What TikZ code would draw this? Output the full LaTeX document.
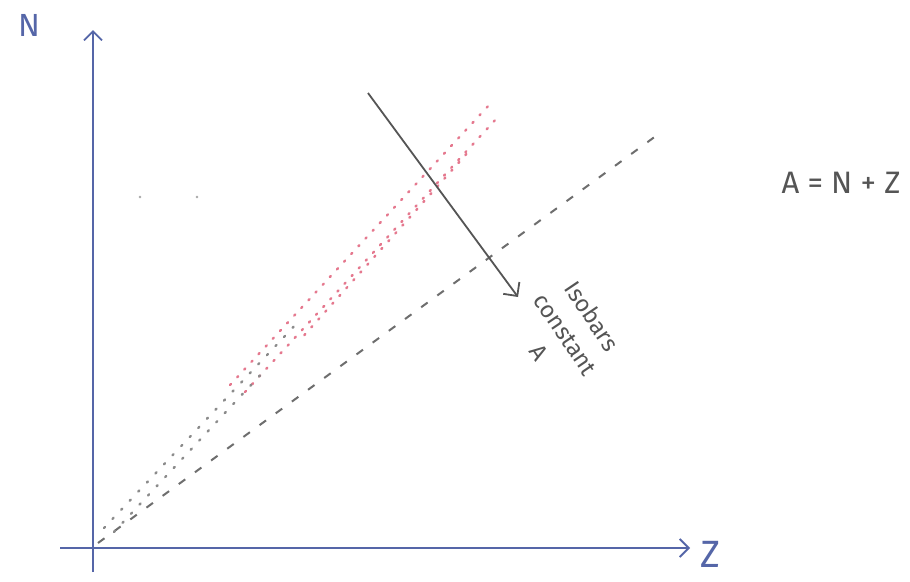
\documentclass[tikz,border=0pt]{standalone}
\usepackage{fontspec}
\setmainfont{Fira Sans}
\usetikzlibrary{arrows.meta}
\definecolor{axisblue}{HTML}{5566A8}
\definecolor{pencil}{HTML}{555555}
\definecolor{dashgray}{HTML}{6E6E6E}
\definecolor{dotred}{HTML}{E0607A}
\tikzset{
  axisline/.style={draw=axisblue, line width=1.8pt, -{Straight Barb[length=9pt,width=18pt,line width=1.8pt]}},
  isoarrow/.style={draw=pencil, line width=1.8pt, -{Straight Barb[length=10pt,width=20pt,line width=1.8pt]}},
  dashline/.style={draw=dashgray, line width=2pt, dash pattern=on 8pt off 12pt},
  reddots/.style={draw=dotred!85, line width=2.4pt, line cap=round, dash pattern=on 1.5pt off 9pt},
  graydots/.style={draw=dashgray!80, line width=2.4pt, line cap=round, dash pattern=on 1.5pt off 11pt},
  hand/.style={text=pencil, inner sep=0pt},
  axislabel/.style={text=axisblue, inner sep=0pt}
}
\begin{document}
\begin{tikzpicture}[x=1pt,y=-1pt]
\useasboundingbox[fill=white] (0,0) rectangle (910,581);
% axes
\coordinate (nbot) at (93,572);
\coordinate (ntop) at (93,30);
\coordinate (zleft) at (60,548);
\coordinate (zright) at (690,548);
\draw[axisline] (nbot) -- (ntop);
\draw[axisline] (zleft) -- (zright);
\node[axislabel, font=\fontsize{32}{34}\selectfont] (nlab) at (29,25) {N};
\node[axislabel, font=\fontsize{38}{40}\selectfont] (zlab) at (710,554) {Z};
% dashed line
\coordinate (d0) at (98,543);
\coordinate (d1) at (660,133);
\draw[dashline] (d0) -- (d1);
% red dotted band
\coordinate (r0) at (230,385);
\coordinate (r1) at (490,104);
\coordinate (s0) at (245,392);
\coordinate (s1) at (497,118);
\draw[reddots] (r0) -- (r1);
\draw[reddots] (s0) -- (s1);
\coordinate (t0) at (300,340);
\coordinate (t1) at (470,150);
\draw[reddots, dash phase=4pt] (t0) -- (t1);
\coordinate (g0) at (104,528);
\coordinate (g1) at (300,320);
\coordinate (h0) at (114,532);
\coordinate (h1) at (265,370);
\draw[graydots] (g0) -- (g1);
\draw[graydots] (h0) -- (h1);
% stray dots
\fill[dashgray!60] (140,197) circle (1.3pt);
\fill[dashgray!60] (197,197) circle (1.3pt);
% isobar arrow
\coordinate (i0) at (368,93);
\coordinate (i1) at (518,297);
\draw[isoarrow] (i0) -- (i1);
\node[hand, rotate=-56, align=center, font=\fontsize{23.5}{32}\selectfont] (iso) at (566,334) {Isobars\\constant\\A};
\node[hand, font=\fontsize{31}{33}\selectfont] (eq) at (841,183) {A = N + Z};
\end{tikzpicture}
\end{document}
